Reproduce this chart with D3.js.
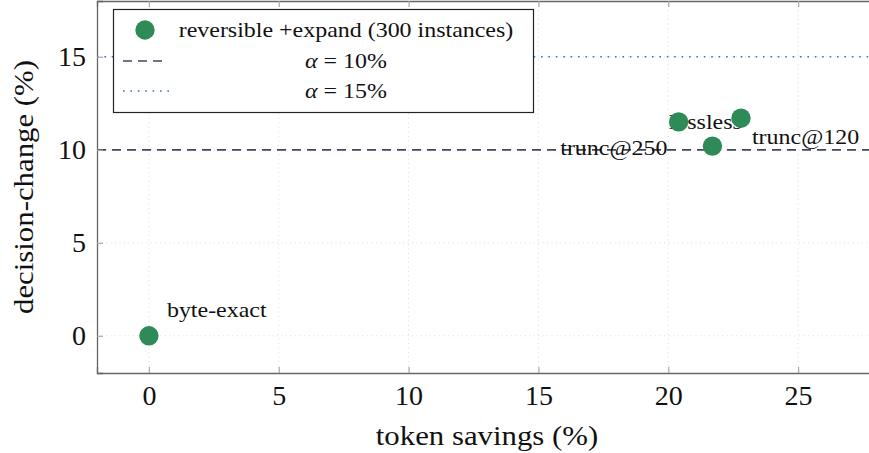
<!DOCTYPE html>
<html>
<head>
<meta charset="utf-8">
<script src="https://cdn.jsdelivr.net/npm/d3@7"></script>
<style>
  html, body { margin: 0; padding: 0; background: #fff; }
  svg text { font-family: "Liberation Serif", "DejaVu Serif", serif; fill: #111; }
</style>
</head>
<body>
<svg id="chart" width="869" height="453"></svg>
<script>
// Operating points: token savings vs. decision-change rate
const methods = ["byte-exact", "lossless", "trunc@250", "trunc@120"];
const savings = [0, 20.4, 21.7, 22.8];
const decisionChange = [0, 11.5, 10.2, 11.7];
// label offsets in pixels relative to each point (dx, dy, anchor)
const labelDx = [18, -10, -45, 11];
const labelDy = [-26, 0, 2, 18];
const labelAnchor = ["start", "start", "end", "start"];

const xTicks = [0, 5, 10, 15, 20, 25];
const yTicks = [0, 5, 10, 15];
const thresholds = [10, 15];
const thresholdPct = ["10%", "15%"];
const seriesName = "reversible +expand (300 instances)";

const plot = { left: 97, top: 1, right: 876, bottom: 373 };

const x = d3.scaleLinear().domain([-2, 28]).range([plot.left, plot.right]);
const y = d3.scaleLinear().domain([-2, 18]).range([plot.bottom, plot.top]);

const svg = d3.select("#chart");
const axisColor = "#666";
const green = "#2e8b57";
const dashColor = "#3d4962";
const dotColor = "#3a75c4";
const labelSize = 21;

// stretch serif text horizontally to a wider set width
function widen(sel, factor) {
  sel.each(function () {
    const n = this.getComputedTextLength();
    d3.select(this).attr("textLength", n * factor).attr("lengthAdjust", "spacingAndGlyphs");
  });
}

// grid
const grid = svg.append("g");
grid.selectAll("line.gx").data(xTicks).join("line")
  .attr("x1", d => x(d)).attr("x2", d => x(d))
  .attr("y1", plot.top).attr("y2", plot.bottom)
  .attr("stroke", "#d4d4d4").attr("stroke-width", 0.8).attr("stroke-dasharray", "1,3.5");
grid.selectAll("line.gy").data(yTicks).join("line")
  .attr("y1", d => y(d)).attr("y2", d => y(d))
  .attr("x1", plot.left).attr("x2", plot.right)
  .attr("stroke", "#d4d4d4").attr("stroke-width", 0.8).attr("stroke-dasharray", "1,3.5");

// threshold lines
svg.append("line")
  .attr("x1", plot.left).attr("x2", plot.right)
  .attr("y1", y(thresholds[0])).attr("y2", y(thresholds[0]))
  .attr("stroke", dashColor).attr("stroke-width", 1.7).attr("stroke-dasharray", "9,6");
svg.append("line")
  .attr("x1", plot.left).attr("x2", plot.right)
  .attr("y1", y(thresholds[1])).attr("y2", y(thresholds[1]))
  .attr("stroke", dotColor).attr("stroke-width", 1.6).attr("stroke-dasharray", "1.6,5.8");

// axes frame with inward ticks
const bottomAxis = d3.axisBottom(x).tickValues(xTicks).tickSize(-6).tickFormat(d3.format("d"));
const topAxis = d3.axisTop(x).tickValues(xTicks).tickSize(-6).tickFormat("");
const leftAxis = d3.axisLeft(y).tickValues(yTicks).tickSize(-6).tickFormat(d3.format("d"));
const rightAxis = d3.axisRight(y).tickValues(yTicks).tickSize(-6).tickFormat("");

function styleAxis(g) {
  g.select(".domain").attr("stroke", axisColor).attr("stroke-width", 1.3);
  g.selectAll(".tick line").attr("stroke", "#aaa").attr("stroke-width", 1.2);
  g.selectAll(".tick text").attr("fill", "#111").attr("font-size", 28)
    .attr("font-family", "Liberation Serif, DejaVu Serif, serif");
}
svg.append("g").attr("transform", `translate(0,${plot.bottom})`).call(bottomAxis).call(styleAxis)
  .call(g => g.selectAll(".tick text").attr("y", 12));
svg.append("g").attr("transform", `translate(0,${plot.top})`).call(topAxis).call(styleAxis);
svg.append("g").attr("transform", `translate(${plot.left},0)`).call(leftAxis).call(styleAxis)
  .call(g => g.selectAll(".tick text").attr("x", -11));
svg.append("g").attr("transform", `translate(${plot.right},0)`).call(rightAxis).call(styleAxis);

// axis titles
svg.append("text").attr("x", 487).attr("y", 445).attr("text-anchor", "middle")
  .attr("font-size", 28).text("token savings (%)").call(widen, 1.1);
svg.append("text").attr("transform", `translate(33,${(plot.top + plot.bottom) / 2}) rotate(-90)`)
  .attr("text-anchor", "middle").attr("font-size", 28).text("decision-change (%)").call(widen, 1.1);

// point labels (beneath markers)
const pts = methods.map((m, i) => ({ m, xv: savings[i], yv: decisionChange[i], i }));
svg.append("g").selectAll("text").data(pts).join("text")
  .attr("x", d => x(d.xv) + labelDx[d.i])
  .attr("y", d => y(d.yv) + labelDy[d.i])
  .attr("dy", "0.35em")
  .attr("text-anchor", d => labelAnchor[d.i])
  .attr("font-size", labelSize)
  .text(d => d.m)
  .call(widen, 1.14);

// markers
svg.append("g").selectAll("circle").data(pts).join("circle")
  .attr("cx", d => x(d.xv)).attr("cy", d => y(d.yv)).attr("r", 9.7)
  .attr("fill", green);

// legend
const lg = svg.append("g");
lg.append("rect").attr("x", 113.5).attr("y", 9.5).attr("width", 420).attr("height", 103)
  .attr("fill", "#fff").attr("stroke", "#222").attr("stroke-width", 1.2);
lg.append("circle").attr("cx", 145).attr("cy", 30).attr("r", 9.7).attr("fill", green);
lg.append("text").attr("x", 346).attr("y", 30).attr("dy", "0.35em").attr("text-anchor", "middle")
  .attr("font-size", labelSize).text(seriesName).call(widen, 1.14);
lg.append("line").attr("x1", 123).attr("x2", 165).attr("y1", 61).attr("y2", 61)
  .attr("stroke", dashColor).attr("stroke-width", 1.7).attr("stroke-dasharray", "9,6");
lg.append("line").attr("x1", 123).attr("x2", 170).attr("y1", 91).attr("y2", 91)
  .attr("stroke", dotColor).attr("stroke-width", 1.6).attr("stroke-dasharray", "1.6,5.8");
const th = lg.selectAll("text.th").data(thresholdPct).join("text")
  .attr("class", "th")
  .attr("x", 346).attr("y", (d, i) => 61 + i * 30).attr("dy", "0.35em")
  .attr("text-anchor", "middle").attr("font-size", labelSize);
th.append("tspan").attr("font-style", "italic").text("α");
th.append("tspan").text(d => " = " + d);
th.call(widen, 1.14);
</script>
</body>
</html>
